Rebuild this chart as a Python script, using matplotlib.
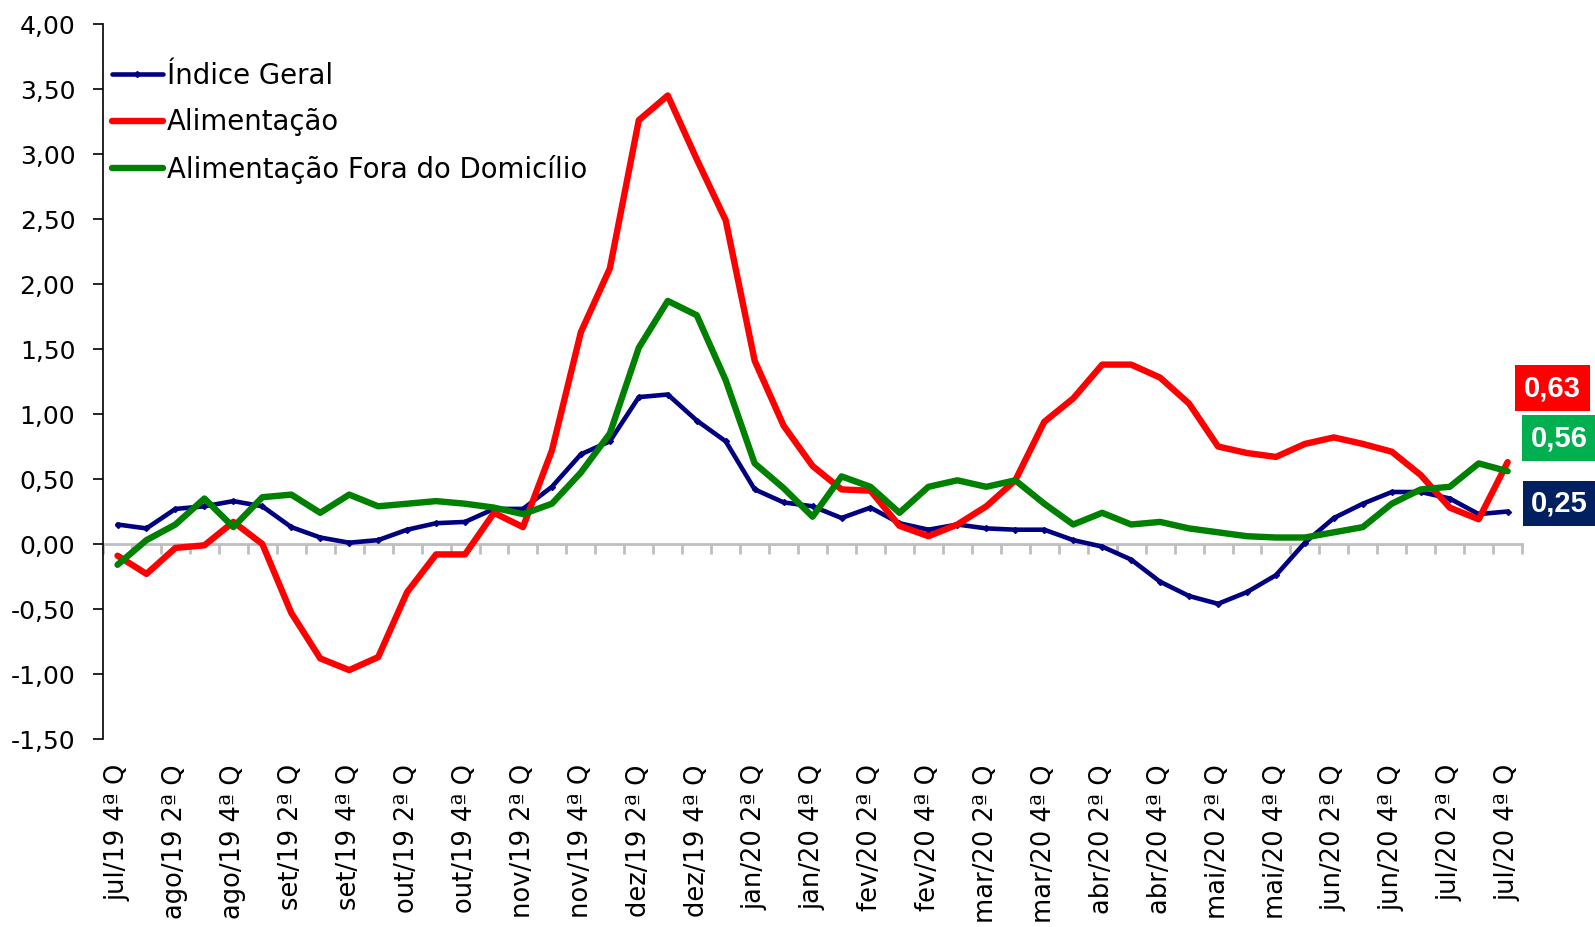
import numpy as np
import matplotlib as mpl
mpl.use('Agg')
from matplotlib import pyplot as plt
from matplotlib.ticker import FuncFormatter

plt.rcParams['font.family'] = ['DejaVu Sans']

### categories: quadrissemanas jul/19 4a Q ... jul/20 4a Q
months = ['ago/19', 'set/19', 'out/19', 'nov/19', 'dez/19', 'jan/20',
	'fev/20', 'mar/20', 'abr/20', 'mai/20', 'jun/20', 'jul/20']
cats = ['jul/19 4ª Q']
for m in months:
	for q in ['1ª', '2ª', '3ª', '4ª']:
		cats.append(m + ' ' + q + ' Q')

indice_geral = [0.15, 0.12, 0.27, 0.29, 0.33, 0.29, 0.13, 0.05, 0.01, 0.03,
	0.11, 0.16, 0.17, 0.27, 0.27, 0.44, 0.69, 0.79, 1.13, 1.15,
	0.95, 0.79, 0.42, 0.32, 0.29, 0.20, 0.28, 0.16, 0.11, 0.15,
	0.12, 0.11, 0.11, 0.03, -0.02, -0.12, -0.29, -0.40, -0.46, -0.37,
	-0.24, 0.01, 0.20, 0.31, 0.40, 0.40, 0.35, 0.23, 0.25]
alimentacao = [-0.09, -0.23, -0.03, -0.01, 0.17, 0.00, -0.53, -0.88, -0.97, -0.87,
	-0.37, -0.08, -0.08, 0.24, 0.13, 0.72, 1.63, 2.12, 3.26, 3.45,
	2.96, 2.49, 1.41, 0.91, 0.60, 0.42, 0.41, 0.14, 0.06, 0.15,
	0.29, 0.49, 0.94, 1.12, 1.38, 1.38, 1.28, 1.08, 0.75, 0.70,
	0.67, 0.77, 0.82, 0.77, 0.71, 0.53, 0.28, 0.19, 0.63]
fora_domicilio = [-0.16, 0.03, 0.15, 0.35, 0.13, 0.36, 0.38, 0.24, 0.38, 0.29,
	0.31, 0.33, 0.31, 0.28, 0.23, 0.31, 0.55, 0.85, 1.51, 1.87,
	1.76, 1.26, 0.62, 0.43, 0.21, 0.52, 0.44, 0.24, 0.44, 0.49,
	0.44, 0.49, 0.31, 0.15, 0.24, 0.15, 0.17, 0.12, 0.09, 0.06,
	0.05, 0.05, 0.09, 0.13, 0.31, 0.42, 0.44, 0.62, 0.56]

x = np.arange(len(cats))

fig = plt.figure(figsize=(15.95, 9.27), dpi=100)
ax = fig.add_axes([0.0646, 0.2028, 0.8897, 0.7713])

ax.plot(x, indice_geral, color='#000080', lw=3.3, marker='D', ms=3,
	solid_capstyle='round', label='Índice Geral', zorder=3)
ax.plot(x, alimentacao, color='#FF0000', lw=4.6,
	solid_capstyle='round', label='Alimentação', zorder=4)
ax.plot(x, fora_domicilio, color='#008000', lw=4.6,
	solid_capstyle='round', label='Alimentação Fora do Domicílio', zorder=5)

ax.set_xlim(-0.5, len(cats) - 0.5)
ax.set_ylim(-1.5, 4.0)
ax.set_yticks(np.arange(-1.5, 4.01, 0.5))
ax.yaxis.set_major_formatter(FuncFormatter(lambda v, p: ('%.2f' % v).replace('.', ',')))
ax.tick_params(axis='y', labelsize=18, length=7, width=1.2, pad=13)

ax.set_xticks(x[::2])
ax.set_xticklabels(cats[::2], rotation=90, fontsize=18.5)
ax.tick_params(axis='x', length=0, pad=18)

for s in ['top', 'right', 'bottom']:
	ax.spines[s].set_visible(False)
ax.spines['left'].set_linewidth(1.2)

## gray zero axis with category ticks
sec = ax.secondary_xaxis(1.5 / 5.5)
sec.set_xticks(np.arange(-0.5, len(cats), 1.0))
sec.set_xticklabels([])
sec.spines['bottom'].set_color('#BFBFBF')
sec.spines['bottom'].set_linewidth(2)
sec.tick_params(axis='x', colors='#BFBFBF', length=7, width=2)

leg = ax.legend(loc='upper left', bbox_to_anchor=(0.0063, 0.947), frameon=False,
	fontsize=19.8, handlelength=1.85, handletextpad=0.15, labelspacing=0.67,
	borderpad=0, borderaxespad=0)

## end-value boxes
boxes = [(alimentacao[-1], '#FF0000', (45, 74)),
	(fora_domicilio[-1], '#00B050', (52, 33)),
	(indice_geral[-1], '#002060', (52, 8))]
for val, col, off in boxes:
	ax.annotate(('%.2f' % val).replace('.', ','), xy=(x[-1], val),
		xytext=(off[0] * 0.72, off[1] * 0.72), textcoords='offset points',
		ha='center', va='center', color='white', fontsize=21,
		fontweight='bold', family='Liberation Sans', annotation_clip=False,
		bbox=dict(boxstyle='square,pad=0.3', fc=col, ec='none'))

fig.savefig('out.png', dpi=100)
